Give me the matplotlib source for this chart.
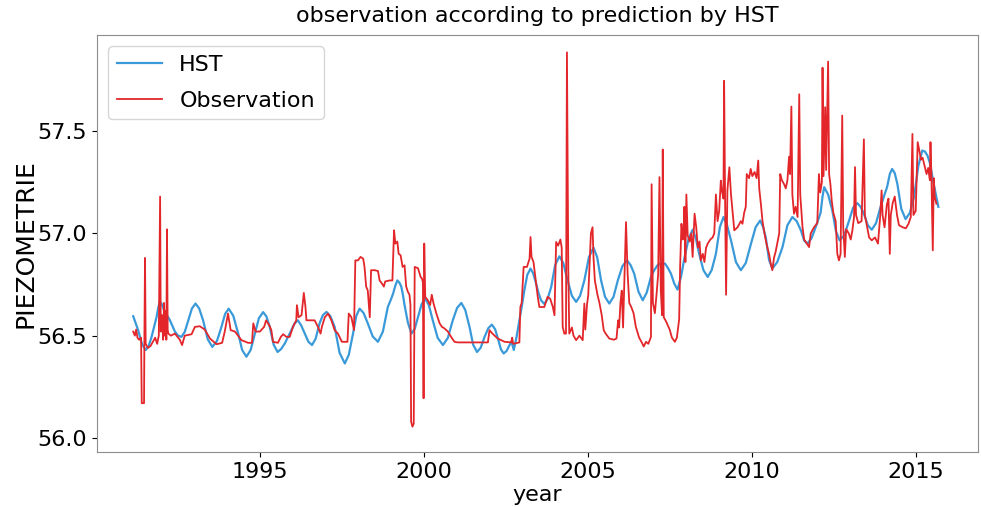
import matplotlib
matplotlib.use("Agg")
import matplotlib.pyplot as plt
from matplotlib.ticker import MultipleLocator, FormatStrFormatter

# HST model (smooth seasonal curve)
hst_year = [1991.15, 1991.30, 1991.42, 1991.53, 1991.62, 1991.71, 1991.79, 1991.86, 1991.91, 1991.96,
            1992.02, 1992.09, 1992.18, 1992.27, 1992.35, 1992.42, 1992.52, 1992.62, 1992.72, 1992.83,
            1992.94, 1993.05, 1993.16, 1993.28, 1993.42, 1993.56, 1993.70, 1993.84, 1993.95, 1994.06,
            1994.20, 1994.35, 1994.47, 1994.60, 1994.73, 1994.86, 1994.98, 1995.11, 1995.21, 1995.31,
            1995.43, 1995.55, 1995.66, 1995.77, 1995.87, 1995.97, 1996.07, 1996.17, 1996.27, 1996.38,
            1996.49, 1996.60, 1996.71, 1996.83, 1996.93, 1997.04, 1997.16, 1997.29, 1997.44, 1997.60,
            1997.72, 1997.85, 1997.95, 1998.05, 1998.17, 1998.30, 1998.45, 1998.61, 1998.76, 1998.91,
            1999.00, 1999.07, 1999.14, 1999.20, 1999.26, 1999.32, 1999.37, 1999.42, 1999.52, 1999.63,
            1999.73, 1999.83, 1999.94, 2000.05, 2000.16, 2000.28, 2000.43, 2000.59, 2000.74, 2000.89,
            2001.02, 2001.15, 2001.27, 2001.40, 2001.51, 2001.63, 2001.74, 2001.86, 2001.97, 2002.08,
            2002.18, 2002.28, 2002.36, 2002.44, 2002.53, 2002.62, 2002.68, 2002.75, 2002.83, 2002.92,
            2003.00, 2003.07, 2003.16, 2003.26, 2003.34, 2003.43, 2003.50, 2003.58, 2003.68, 2003.78,
            2003.89, 2004.01, 2004.14, 2004.26, 2004.39, 2004.52, 2004.65, 2004.77, 2004.90, 2005.04,
            2005.18, 2005.29, 2005.41, 2005.53, 2005.66, 2005.79, 2005.92, 2006.06, 2006.20, 2006.31,
            2006.42, 2006.55, 2006.68, 2006.80, 2006.93, 2007.03, 2007.13, 2007.25, 2007.36, 2007.45,
            2007.54, 2007.64, 2007.74, 2007.85, 2007.95, 2008.08, 2008.20, 2008.30, 2008.40, 2008.53,
            2008.66, 2008.78, 2008.91, 2009.03, 2009.14, 2009.25, 2009.37, 2009.52, 2009.67, 2009.82,
            2009.98, 2010.12, 2010.26, 2010.35, 2010.43, 2010.53, 2010.63, 2010.78, 2010.94, 2011.09,
            2011.24, 2011.37, 2011.50, 2011.60, 2011.70, 2011.82, 2011.95, 2012.10, 2012.16, 2012.21,
            2012.33, 2012.46, 2012.57, 2012.68, 2012.82, 2012.97, 2013.09, 2013.22, 2013.32, 2013.42,
            2013.54, 2013.66, 2013.79, 2013.93, 2014.03, 2014.13, 2014.21, 2014.28, 2014.36, 2014.44,
            2014.56, 2014.69, 2014.82, 2014.95, 2015.08, 2015.20, 2015.28, 2015.36, 2015.44, 2015.51,
            2015.60, 2015.69]
hst_val = [56.595, 56.527, 56.458, 56.430, 56.449, 56.494, 56.545, 56.590, 56.635, 56.665,
           56.655, 56.624, 56.600, 56.575, 56.545, 56.520, 56.500, 56.494, 56.518, 56.575,
           56.633, 56.657, 56.633, 56.575, 56.483, 56.445, 56.473, 56.543, 56.606, 56.632,
           56.597, 56.510, 56.430, 56.397, 56.430, 56.510, 56.585, 56.615, 56.594, 56.543,
           56.456, 56.420, 56.435, 56.462, 56.495, 56.527, 56.560, 56.575, 56.550, 56.510,
           56.470, 56.454, 56.485, 56.560, 56.600, 56.616, 56.595, 56.543, 56.416, 56.364,
           56.406, 56.510, 56.597, 56.632, 56.611, 56.560, 56.496, 56.470, 56.520, 56.640,
           56.675, 56.705, 56.745, 56.770, 56.760, 56.740, 56.700, 56.650, 56.565, 56.510,
           56.533, 56.590, 56.654, 56.680, 56.650, 56.575, 56.489, 56.454, 56.489, 56.575,
           56.635, 56.660, 56.626, 56.543, 56.456, 56.420, 56.441, 56.494, 56.536, 56.554,
           56.532, 56.478, 56.432, 56.413, 56.425, 56.454, 56.470, 56.430, 56.490, 56.575,
           56.650, 56.720, 56.797, 56.828, 56.805, 56.755, 56.710, 56.673, 56.655, 56.680,
           56.738, 56.845, 56.888, 56.854, 56.770, 56.695, 56.665, 56.695, 56.770, 56.884,
           56.930, 56.884, 56.770, 56.690, 56.657, 56.690, 56.770, 56.840, 56.868, 56.845,
           56.803, 56.715, 56.673, 56.710, 56.787, 56.820, 56.844, 56.855, 56.852, 56.830,
           56.803, 56.755, 56.725, 56.790, 56.880, 56.975, 57.018, 56.975, 56.900, 56.820,
           56.787, 56.820, 56.900, 57.030, 57.080, 57.040, 56.966, 56.860, 56.820, 56.855,
           56.950, 57.030, 57.063, 57.030, 56.980, 56.870, 56.828, 56.860, 56.933, 57.040,
           57.080, 57.060, 57.015, 56.965, 56.950, 56.975, 57.030, 57.100, 57.180, 57.226,
           57.190, 57.110, 57.010, 56.966, 56.990, 57.063, 57.125, 57.148, 57.130, 57.096,
           57.040, 57.018, 57.050, 57.130, 57.180, 57.228, 57.290, 57.315, 57.295, 57.242,
           57.120, 57.070, 57.100, 57.178, 57.330, 57.405, 57.400, 57.380, 57.340, 57.275,
           57.200, 57.130]

obs_year = [1991.15, 1991.20, 1991.24, 1991.28, 1991.33, 1991.39, 1991.41, 1991.48, 1991.49, 1991.51,
            1991.53, 1991.60, 1991.68, 1991.75, 1991.82, 1991.88, 1991.93, 1991.97, 1991.99, 1992.03,
            1992.06, 1992.09, 1992.11, 1992.14, 1992.16, 1992.18, 1992.20, 1992.22, 1992.30, 1992.42,
            1992.57, 1992.64, 1992.72, 1992.93, 1993.03, 1993.18, 1993.33, 1993.49, 1993.69, 1993.86,
            1993.94, 1994.04, 1994.12, 1994.25, 1994.45, 1994.65, 1994.77, 1994.81, 1994.88, 1995.01,
            1995.14, 1995.20, 1995.30, 1995.36, 1995.41, 1995.56, 1995.65, 1995.72, 1995.82, 1995.92,
            1996.02, 1996.12, 1996.14, 1996.19, 1996.28, 1996.35, 1996.40, 1996.43, 1996.58, 1996.68,
            1996.78, 1996.86, 1996.90, 1996.99, 1997.09, 1997.19, 1997.29, 1997.39, 1997.51, 1997.68,
            1997.72, 1997.80, 1997.88, 1997.92, 1998.00, 1998.08, 1998.16, 1998.20, 1998.25, 1998.30,
            1998.36, 1998.40, 1998.51, 1998.61, 1998.66, 1998.73, 1998.79, 1998.83, 1998.97, 1999.05,
            1999.10, 1999.14, 1999.20, 1999.24, 1999.30, 1999.36, 1999.42, 1999.47, 1999.52, 1999.57,
            1999.60, 1999.62, 1999.66, 1999.70, 1999.73, 1999.83, 1999.91, 1999.95, 1999.98, 2000.00,
            2000.02, 2000.05, 2000.13, 2000.20, 2000.25, 2000.30, 2000.39, 2000.49, 2000.56, 2000.64,
            2000.74, 2000.84, 2000.94, 2001.04, 2001.96, 2002.01, 2002.10, 2002.26, 2002.47, 2002.67,
            2002.70, 2002.73, 2002.92, 2002.95, 2002.99, 2003.05, 2003.15, 2003.23, 2003.26, 2003.29,
            2003.35, 2003.43, 2003.48, 2003.53, 2003.60, 2003.68, 2003.78, 2003.86, 2003.94, 2003.99,
            2004.04, 2004.10, 2004.17, 2004.21, 2004.24, 2004.29, 2004.34, 2004.37, 2004.41, 2004.44,
            2004.52, 2004.57, 2004.65, 2004.75, 2004.85, 2004.90, 2004.93, 2004.98, 2005.02, 2005.10,
            2005.15, 2005.18, 2005.22, 2005.30, 2005.36, 2005.43, 2005.49, 2005.55, 2005.66, 2005.80,
            2005.88, 2005.93, 2005.96, 2006.00, 2006.04, 2006.08, 2006.12, 2006.17, 2006.22, 2006.27,
            2006.33, 2006.40, 2006.47, 2006.57, 2006.64, 2006.71, 2006.78, 2006.85, 2006.93, 2006.95,
            2006.99, 2007.05, 2007.11, 2007.15, 2007.19, 2007.23, 2007.27, 2007.29, 2007.32, 2007.39,
            2007.50, 2007.57, 2007.66, 2007.72, 2007.79, 2007.82, 2007.84, 2007.86, 2007.90, 2007.93,
            2007.95, 2007.98, 2008.01, 2008.05, 2008.11, 2008.16, 2008.20, 2008.26, 2008.31, 2008.36,
            2008.41, 2008.45, 2008.51, 2008.56, 2008.61, 2008.66, 2008.74, 2008.81, 2008.86, 2008.91,
            2008.96, 2009.01, 2009.06, 2009.09, 2009.14, 2009.16, 2009.19, 2009.22, 2009.26, 2009.32,
            2009.37, 2009.42, 2009.47, 2009.57, 2009.67, 2009.72, 2009.77, 2009.82, 2009.85, 2009.92,
            2009.97, 2010.02, 2010.09, 2010.15, 2010.20, 2010.23, 2010.28, 2010.33, 2010.38, 2010.43,
            2010.48, 2010.53, 2010.58, 2010.63, 2010.68, 2010.73, 2010.84, 2010.87, 2010.92, 2010.99,
            2011.04, 2011.09, 2011.14, 2011.17, 2011.21, 2011.24, 2011.29, 2011.34, 2011.40, 2011.45,
            2011.48, 2011.55, 2011.60, 2011.68, 2011.75, 2011.80, 2011.90, 2012.00, 2012.05, 2012.09,
            2012.14, 2012.16, 2012.19, 2012.24, 2012.27, 2012.33, 2012.36, 2012.40, 2012.44, 2012.49,
            2012.56, 2012.61, 2012.66, 2012.71, 2012.76, 2012.79, 2012.84, 2012.88, 2012.96, 2013.02,
            2013.07, 2013.12, 2013.15, 2013.18, 2013.25, 2013.35, 2013.42, 2013.45, 2013.51, 2013.58,
            2013.66, 2013.76, 2013.85, 2013.92, 2013.96, 2013.99, 2014.05, 2014.12, 2014.17, 2014.21,
            2014.24, 2014.30, 2014.36, 2014.43, 2014.49, 2014.60, 2014.70, 2014.78, 2014.85, 2014.90,
            2014.93, 2015.00, 2015.06, 2015.11, 2015.16, 2015.21, 2015.27, 2015.33, 2015.38, 2015.43,
            2015.45, 2015.48, 2015.52, 2015.55, 2015.58, 2015.63]
obs_val = [56.520, 56.500, 56.530, 56.490, 56.480, 56.490, 56.170, 56.170, 56.470, 56.880,
           56.460, 56.440, 56.450, 56.470, 56.490, 56.460, 56.500, 57.180, 56.520, 56.600,
           56.480, 56.660, 56.500, 56.620, 56.480, 57.020, 56.530, 56.510, 56.500, 56.510,
           56.480, 56.454, 56.500, 56.507, 56.543, 56.546, 56.530, 56.486, 56.458, 56.465,
           56.520, 56.608, 56.527, 56.520, 56.478, 56.465, 56.465, 56.560, 56.520, 56.520,
           56.543, 56.575, 56.550, 56.527, 56.470, 56.465, 56.494, 56.507, 56.494, 56.494,
           56.543, 56.575, 56.649, 56.590, 56.600, 56.709, 56.640, 56.575, 56.575, 56.575,
           56.543, 56.510, 56.543, 56.590, 56.608, 56.575, 56.527, 56.510, 56.470, 56.470,
           56.608, 56.590, 56.527, 56.868, 56.868, 56.885, 56.876, 56.836, 56.740, 56.720,
           56.590, 56.820, 56.820, 56.816, 56.770, 56.755, 56.740, 56.765, 56.770, 56.770,
           57.015, 56.950, 56.960, 56.900, 56.893, 56.836, 56.844, 56.740, 56.715, 56.700,
           56.650, 56.080, 56.055, 56.070, 56.836, 56.830, 56.787, 56.780, 56.760, 56.194,
           56.950, 56.690, 56.673, 56.650, 56.700, 56.660, 56.608, 56.560, 56.543, 56.535,
           56.520, 56.494, 56.470, 56.467, 56.467, 56.527, 56.510, 56.486, 56.470, 56.467,
           56.490, 56.460, 56.467, 56.640, 56.660, 56.836, 56.836, 56.876, 56.982, 56.885,
           56.860, 56.755, 56.690, 56.640, 56.640, 56.640, 56.690, 56.680, 56.640, 56.600,
           56.958, 56.940, 56.970, 56.930, 56.543, 56.510, 56.510, 57.885, 56.836, 56.510,
           56.540, 56.500, 56.478, 56.500, 56.478, 56.657, 56.530, 56.650, 56.700, 57.000,
           57.030, 56.880, 56.770, 56.700, 56.660, 56.600, 56.527, 56.510, 56.486, 56.480,
           56.486, 56.575, 56.540, 56.660, 56.720, 56.540, 56.770, 57.055, 56.800, 56.660,
           56.640, 56.610, 56.543, 56.490, 56.470, 56.447, 56.470, 56.460, 56.494, 57.240,
           56.660, 56.610, 56.720, 56.800, 57.275, 56.720, 56.600, 57.410, 56.590, 56.570,
           56.530, 56.490, 56.470, 56.490, 56.580, 56.840, 56.950, 57.047, 56.970, 57.000,
           57.130, 56.860, 57.190, 56.990, 56.960, 57.000, 56.885, 57.096, 57.030, 56.930,
           56.960, 56.868, 56.900, 56.860, 56.930, 56.950, 56.970, 56.980, 57.000, 57.190,
           57.060, 57.110, 57.258, 57.210, 57.170, 57.746, 57.160, 56.700, 57.210, 57.323,
           57.190, 57.100, 57.015, 57.030, 57.060, 57.047, 57.100, 57.130, 57.290, 57.270,
           57.315, 57.280, 57.300, 57.270, 57.356, 57.220, 57.145, 57.060, 57.010, 56.966,
           56.930, 56.900, 56.852, 56.820, 56.880, 56.910, 57.000, 57.290, 57.260, 57.240,
           57.220, 57.260, 57.375, 57.290, 57.620, 57.190, 57.096, 57.130, 57.080, 57.680,
           57.190, 57.030, 56.970, 56.950, 56.933, 57.000, 57.030, 57.050, 57.290, 57.200,
           57.250, 57.810, 57.280, 57.617, 57.310, 57.840, 57.290, 57.240, 57.160, 57.100,
           57.060, 56.900, 56.868, 56.900, 57.576, 57.030, 56.885, 57.020, 57.000, 56.970,
           57.015, 57.080, 57.324, 57.090, 57.050, 57.060, 57.460, 57.090, 57.040, 56.980,
           56.966, 56.980, 56.950, 57.090, 57.210, 57.090, 57.030, 57.140, 57.170, 56.900,
           57.090, 57.150, 57.180, 57.090, 57.040, 57.030, 57.025, 57.047, 57.080, 57.486,
           57.090, 57.110, 57.446, 57.405, 57.360, 57.370, 57.330, 57.290, 57.320, 57.260,
           57.446, 57.270, 56.917, 57.270, 57.178, 57.145]

fig = plt.figure(figsize=(9.81, 5.07), dpi=100)
ax = fig.add_axes([0.099, 0.108, 0.898, 0.823])

ax.plot(hst_year, hst_val, color="#3a9ad9", lw=1.6, solid_joinstyle="round", label="HST")
ax.plot(obs_year, obs_val, color="#e3262a", lw=1.3, label="Observation")

ax.set_xlim(1990.05, 2016.9)
ax.set_ylim(55.93, 57.97)
ax.xaxis.set_major_locator(MultipleLocator(5))
ax.yaxis.set_major_locator(MultipleLocator(0.5))
ax.yaxis.set_major_formatter(FormatStrFormatter("%.1f"))
ax.tick_params(labelsize=16)
for s in ax.spines.values():
    s.set_color("#8c8c8c")

ax.set_title("observation according to prediction by HST", fontsize=16, pad=9)
ax.set_xlabel("year", fontsize=16, labelpad=2)
ax.set_ylabel("PIEZOMETRIE", fontsize=18, labelpad=0)
ax.legend(loc="upper left", fontsize=16, labelspacing=0.7)

fig.savefig("out.png", dpi=100)
